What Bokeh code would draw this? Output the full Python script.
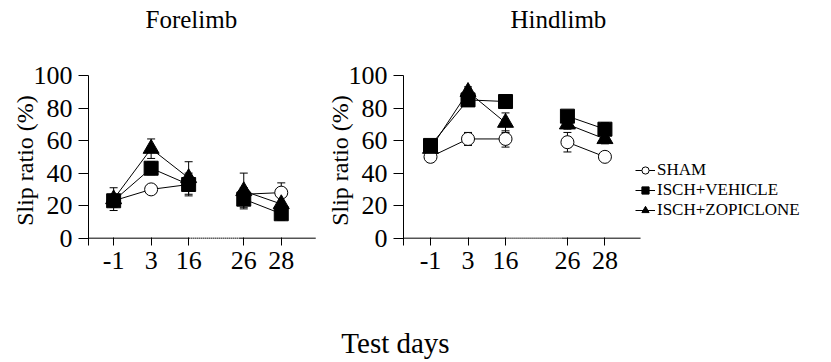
from bokeh.plotting import figure
from bokeh.layouts import row, column
from bokeh.models import (Range1d, FixedTicker, ColumnDataSource, Whisker, TeeHead,
                          Legend, LegendItem, Label, Title)
from bokeh.embed import file_html
from bokeh.resources import INLINE

# ---------------- data ----------------
days = ["-1", "3", "16", "26", "28"]

fore_sham = [23, 30, 33, 27, 28]
fore_sham_err = [3, 3, 4, 4, 6]
fore_veh = [23, 43, 33, 24, 15]
fore_veh_err = [4, 4, 7, 5, 4]
fore_zop = [24, 55, 37, 29, 21]
fore_zop_err = [7, 6, 10, 11, 6]

hind_sham = [50, 61, 61, 59, 50]
hind_sham_err = [2, 4, 5, 6, 2]
hind_veh = [57, 85, 84, 75, 67]
hind_veh_err = [3, 3, 4, 3, 4]
hind_zop = [55, 90, 71, 70, 61]
hind_zop_err = [3, 3, 6, 3, 3]

series_names = ["SHAM", "ISCH+VEHICLE", "ISCH+ZOPICLONE"]
y_ticks = [0, 20, 40, 60, 80, 100]

# -------------- layout constants --------------
fore_pos = [0, 1, 2, 3.47, 4.47]
hind_pos = [0, 1, 2, 3.65, 4.65]
FONT = "Liberation Serif"

marker_style = {
    "SHAM": dict(marker="circle", size=13, fill_color="white"),
    "ISCH+VEHICLE": dict(marker="square", size=14, fill_color="black"),
    "ISCH+ZOPICLONE": dict(marker="triangle", size=16, fill_color="black"),
}


def make_panel(title, toff, pos, data, width, bl, br, x0, x1, axis_end):
    p = figure(width=width, height=300, output_backend="svg", toolbar_location=None,
               title=None,
               x_range=Range1d(x0, x1), y_range=Range1d(-4.5, 100),
               min_border_left=bl, min_border_right=br, min_border_top=75,
               min_border_bottom=55)
    p.outline_line_color = None
    p.grid.visible = False

    # title stacked above a spacer so it sits near the top of the page
    p.add_layout(Title(text=" ", text_font_size="37px", standoff=0), "above")
    p.add_layout(Title(text=title, text_font=FONT, text_font_size="25px",
                       text_font_style="normal", text_color="black", align="left",
                       offset=toff, standoff=0), "above")

    ya = p.yaxis[0]
    ya.ticker = FixedTicker(ticks=y_ticks)
    ya.major_tick_out = 10
    ya.major_tick_in = 0
    ya.minor_tick_out = 0
    ya.minor_tick_in = 0
    ya.major_label_standoff = 6
    ya.major_label_text_font = FONT
    ya.major_label_text_font_size = "26px"
    ya.major_label_text_color = "black"
    ya.axis_label = "Slip ratio (%)"
    ya.axis_label_text_font = FONT
    ya.axis_label_text_font_size = "24px"
    ya.axis_label_text_font_style = "normal"
    ya.axis_label_text_color = "black"
    ya.axis_label_standoff = -7
    ya.axis_line_color = "black"
    ya.major_tick_line_color = "black"

    xa = p.xaxis[0]
    xa.ticker = FixedTicker(ticks=pos)
    xa.major_label_overrides = {pp: d for pp, d in zip(pos, days)}
    xa.axis_line_color = None
    xa.major_tick_in = 8
    xa.major_tick_out = 0
    xa.minor_tick_in = 0
    xa.minor_tick_out = 0
    xa.major_label_standoff = 6
    xa.major_label_text_font = FONT
    xa.major_label_text_font_size = "26px"
    xa.major_label_text_color = "black"
    xa.major_tick_line_color = "black"

    # broken x axis line at y=0
    p.segment(x0=[x0, pos[3] - 0.13], y0=[0, 0], x1=[pos[2], axis_end], y1=[0, 0],
              line_color="black", line_width=1)
    p.segment(x0=[pos[2]], y0=[0], x1=[pos[3] - 0.13], y1=[0],
              line_color="black", line_width=1.5, line_dash="1 1")

    rends = {}
    for name, vals, err in data:
        lr = p.multi_line(xs=[pos[:3], pos[3:]], ys=[vals[:3], vals[3:]],
                          line_color="black", line_width=1)
        src = ColumnDataSource(dict(x=pos, upper=[v + e for v, e in zip(vals, err)],
                                    lower=[v - e for v, e in zip(vals, err)]))
        w = Whisker(source=src, base="x", upper="upper", lower="lower",
                    line_color="black", line_width=1,
                    upper_head=TeeHead(size=8, line_color="black", line_width=1),
                    lower_head=TeeHead(size=8, line_color="black", line_width=1))
        p.add_layout(w)
        rends[name] = [lr]
    for name in ["SHAM", "ISCH+ZOPICLONE", "ISCH+VEHICLE"]:
        vals = [d[1] for d in data if d[0] == name][0]
        sr = p.scatter(x=pos, y=vals, line_color="black", line_width=1,
                       **marker_style[name])
        rends[name].append(sr)
    return p, rends


p1, _ = make_panel("Forelimb", 57, fore_pos,
                   [("SHAM", fore_sham, fore_sham_err),
                    ("ISCH+VEHICLE", fore_veh, fore_veh_err),
                    ("ISCH+ZOPICLONE", fore_zop, fore_zop_err)],
                   316, 88, 0, -0.67, 5.41, 5.39)
p2, r2 = make_panel("Hindlimb", 107, hind_pos,
                    [("SHAM", hind_sham, hind_sham_err),
                     ("ISCH+VEHICLE", hind_veh, hind_veh_err),
                     ("ISCH+ZOPICLONE", hind_zop, hind_zop_err)],
                    515, 87, 0, -0.72, 10.69, 5.6)

legend = Legend(items=[LegendItem(label=n, renderers=r2[n]) for n in series_names],
                location=(232, 25), label_text_font=FONT, label_text_font_size="17px",
                label_text_color="black",
                glyph_width=20, glyph_height=18, label_height=18, spacing=0,
                padding=0, margin=0, label_standoff=2, border_line_color=None,
                background_fill_alpha=0)
p2.add_layout(legend)

p3 = figure(width=831, height=62, output_backend="svg", toolbar_location=None,
            title=None,
            x_range=Range1d(0, 831), y_range=Range1d(0, 62), min_border=0,
            x_axis_type=None, y_axis_type=None)
p3.outline_line_color = None
p3.add_layout(Label(x=395, y=20, x_units="screen", y_units="screen", text="Test days",
                    text_font=FONT, text_font_size="29px", text_align="center",
                    text_baseline="middle", text_color="black"))

layout = column(row(p1, p2), p3)
open("out.html", "w").write(file_html(layout, INLINE))
